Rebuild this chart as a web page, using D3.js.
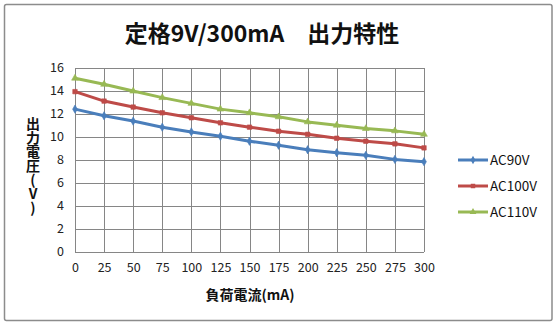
<!DOCTYPE html>
<html>
<head>
<meta charset="utf-8">
<script src="https://cdn.jsdelivr.net/npm/d3@7"></script>
<style>
  html, body { margin: 0; padding: 0; background: #fff; }
  svg { display: block; }
</style>
</head>
<body>
<svg id="chart" width="555" height="325"></svg>
<script>
// Load current (mA) categories and output voltage per input voltage
const currents = [0, 25, 50, 75, 100, 125, 150, 175, 200, 225, 250, 275, 300];
const ac90  = [12.38, 11.80, 11.34, 10.81, 10.40, 10.02, 9.59, 9.24, 8.85, 8.59, 8.36, 8.01, 7.81];
const ac100 = [13.90, 13.08, 12.56, 12.06, 11.63, 11.19, 10.81, 10.46, 10.19, 9.85, 9.59, 9.36, 9.01];
const ac110 = [15.07, 14.54, 13.95, 13.38, 12.88, 12.38, 12.06, 11.71, 11.27, 10.98, 10.69, 10.49, 10.19];
const yTicks = [0, 2, 4, 6, 8, 10, 12, 14, 16];
const seriesNames = ["AC90V", "AC100V", "AC110V"];

const series = [
  { name: seriesNames[0], values: ac90,  color: "#4A7EBB", symbol: d3.symbolDiamond },
  { name: seriesNames[1], values: ac100, color: "#BE4B48", symbol: d3.symbolSquare },
  { name: seriesNames[2], values: ac110, color: "#98B954", symbol: d3.symbolTriangle }
];

const svg = d3.select("#chart");
const FONT = "'Noto Sans CJK JP', 'Noto Sans', sans-serif";

// Outer frame
svg.append("rect")
  .attr("x", 4.5).attr("y", 4.5)
  .attr("width", 547.5).attr("height", 316)
  .attr("rx", 2)
  .attr("fill", "#fff")
  .attr("stroke", "#8c8c8c")
  .attr("stroke-width", 1.5);

// Title
svg.append("text")
  .attr("x", 262).attr("y", 42)
  .attr("text-anchor", "middle")
  .attr("font-family", FONT)
  .attr("font-weight", "bold")
  .attr("font-size", 23)
  .attr("fill", "#111")
  .text("定格9V/300mA　出力特性");

const plot = { left: 75, right: 424, top: 67.5, bottom: 251.5 };

const x = d3.scalePoint()
  .domain(currents)
  .range([plot.left, plot.right]);

const y = d3.scaleLinear()
  .domain([0, 16])
  .range([plot.bottom, plot.top]);

// Grid lines
const grid = svg.append("g").attr("stroke", "#868686").attr("stroke-width", 1).attr("shape-rendering", "crispEdges");
grid.selectAll("line.h").data(yTicks).join("line")
  .attr("class", "h")
  .attr("x1", plot.left).attr("x2", plot.right)
  .attr("y1", d => Math.round(y(d)) + 0.5).attr("y2", d => Math.round(y(d)) + 0.5);
grid.selectAll("line.v").data(currents).join("line")
  .attr("class", "v")
  .attr("y1", plot.top).attr("y2", plot.bottom)
  .attr("x1", d => Math.round(x(d)) + 0.5).attr("x2", d => Math.round(x(d)) + 0.5);

// Axes (labels only; the grid draws the rules)
const yAxis = svg.append("g")
  .attr("transform", `translate(${plot.left},0)`)
  .call(d3.axisLeft(y).tickValues(yTicks).tickSize(0).tickPadding(11));
const xAxis = svg.append("g")
  .attr("transform", `translate(0,${plot.bottom})`)
  .call(d3.axisBottom(x).tickSize(0).tickPadding(12));
[yAxis, xAxis].forEach(g => {
  g.select(".domain").remove();
  g.selectAll("text")
    .attr("font-family", FONT)
    .attr("font-size", 12.5)
    .attr("fill", "#222");
});

// Axis titles
svg.append("text")
  .attr("x", 250).attr("y", 300)
  .attr("text-anchor", "middle")
  .attr("font-family", FONT)
  .attr("font-weight", "bold")
  .attr("font-size", 14)
  .attr("fill", "#111")
  .text("負荷電流(mA)");

svg.append("text")
  .attr("x", 33).attr("y", 117)
  .attr("font-family", FONT)
  .attr("font-weight", "bold")
  .attr("font-size", 14)
  .attr("fill", "#111")
  .style("writing-mode", "vertical-rl")
  .style("text-orientation", "upright")
  .text("出力電圧(V)");

// Series lines and markers
const line = d3.line()
  .x((d, i) => x(currents[i]))
  .y(d => y(d));

series.forEach(s => {
  svg.append("path")
    .datum(s.values)
    .attr("fill", "none")
    .attr("stroke", s.color)
    .attr("stroke-width", 3)
    .attr("stroke-linejoin", "round")
    .attr("d", line);
  svg.append("g").selectAll("path").data(s.values).join("path")
    .attr("transform", (d, i) => `translate(${x(currents[i])},${y(d)})`)
    .attr("d", d3.symbol().type(s.symbol).size(20))
    .attr("fill", s.color)
    .attr("stroke", s.color)
    .attr("stroke-width", 0.6);
});

// Legend
const legend = svg.append("g");
series.forEach((s, i) => {
  const cy = 160 + i * 26;
  legend.append("line")
    .attr("x1", 458).attr("x2", 488)
    .attr("y1", cy).attr("y2", cy)
    .attr("stroke", s.color)
    .attr("stroke-width", 3);
  legend.append("path")
    .attr("transform", `translate(473,${cy})`)
    .attr("d", d3.symbol().type(s.symbol).size(20))
    .attr("fill", s.color);
  legend.append("text")
    .attr("x", 490).attr("y", cy)
    .attr("dy", "0.36em")
    .attr("font-family", FONT)
    .attr("font-size", 13.5)
    .attr("fill", "#111")
    .text(s.name);
});
</script>
</body>
</html>
